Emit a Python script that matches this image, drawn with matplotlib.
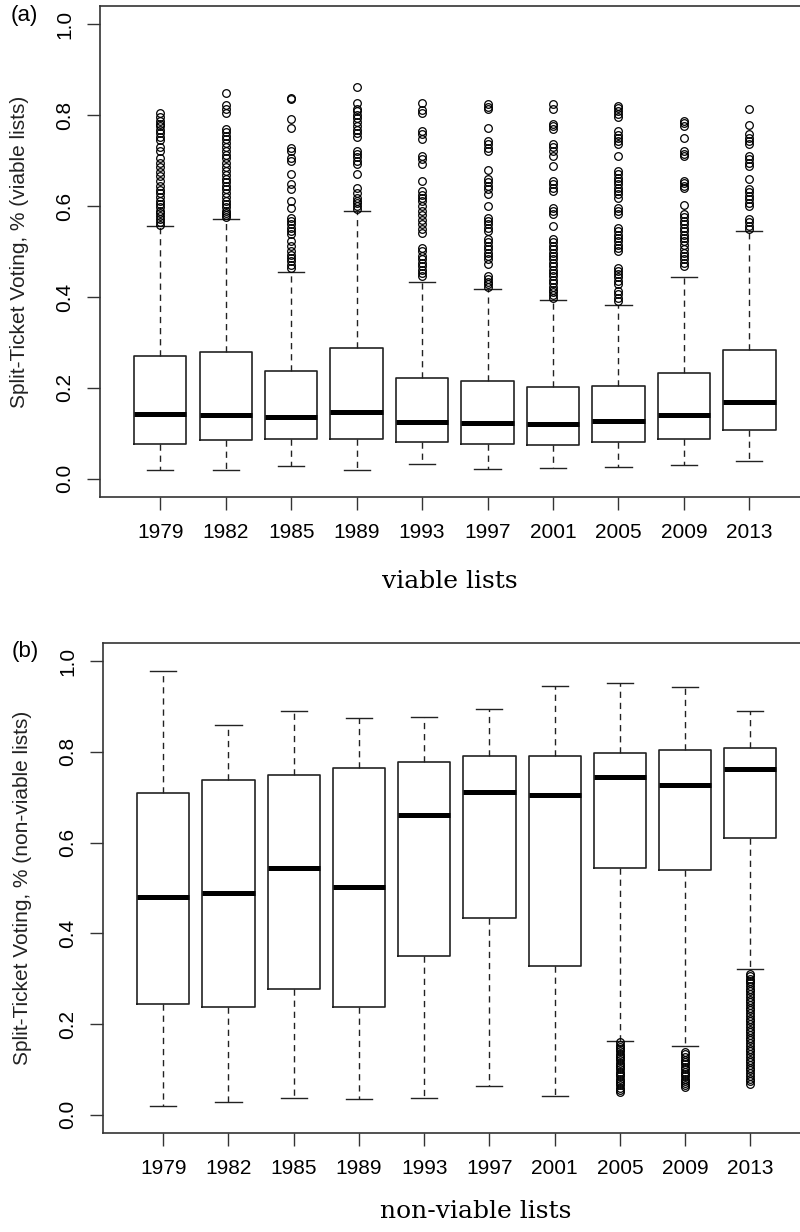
import numpy as np
import matplotlib.pyplot as plt

years = ['1979', '1982', '1985', '1989', '1993', '1997', '2001', '2005', '2009', '2013']

# panel (a): viable lists
a_whislo = [0.020, 0.020, 0.029, 0.020, 0.033, 0.022, 0.024, 0.026, 0.031, 0.040]
a_q1 = [0.077, 0.086, 0.088, 0.088, 0.081, 0.077, 0.075, 0.081, 0.088, 0.108]
a_med = [0.143, 0.141, 0.136, 0.146, 0.125, 0.123, 0.121, 0.127, 0.141, 0.168]
a_q3 = [0.270, 0.280, 0.237, 0.288, 0.222, 0.216, 0.203, 0.205, 0.233, 0.284]
a_whishi = [0.555, 0.572, 0.456, 0.588, 0.432, 0.418, 0.393, 0.383, 0.445, 0.546]
a_fliers = [
    [0.805, 0.795, 0.787, 0.780, 0.775, 0.768, 0.760, 0.752, 0.745, 0.730, 0.720,
     0.705, 0.695, 0.685, 0.675, 0.665, 0.655, 0.645, 0.635, 0.628, 0.620, 0.612,
     0.605, 0.598, 0.590, 0.585, 0.578, 0.572, 0.565, 0.558],
    [0.849, 0.822, 0.813, 0.805, 0.770, 0.762, 0.755, 0.748, 0.738, 0.730, 0.722,
     0.712, 0.705, 0.695, 0.685, 0.678, 0.668, 0.660, 0.652, 0.645, 0.637, 0.628,
     0.620, 0.612, 0.604, 0.598, 0.590, 0.585, 0.580, 0.576],
    [0.838, 0.836, 0.791, 0.772, 0.728, 0.721, 0.705, 0.700, 0.671, 0.648, 0.637,
     0.611, 0.596, 0.574, 0.567, 0.560, 0.552, 0.545, 0.538, 0.523, 0.512, 0.501,
     0.493, 0.486, 0.479, 0.471, 0.464],
    [0.862, 0.827, 0.814, 0.808, 0.800, 0.793, 0.785, 0.776, 0.768, 0.760, 0.752,
     0.721, 0.714, 0.707, 0.700, 0.692, 0.670, 0.640, 0.629, 0.618, 0.612, 0.607,
     0.600, 0.593],
    [0.827, 0.812, 0.805, 0.765, 0.758, 0.748, 0.710, 0.703, 0.692, 0.655, 0.633,
     0.625, 0.617, 0.610, 0.600, 0.590, 0.580, 0.570, 0.560, 0.550, 0.540, 0.508,
     0.500, 0.490, 0.483, 0.475, 0.468, 0.460, 0.452, 0.446],
    [0.824, 0.818, 0.813, 0.772, 0.743, 0.736, 0.728, 0.720, 0.680, 0.660, 0.652,
     0.645, 0.637, 0.626, 0.600, 0.574, 0.567, 0.560, 0.552, 0.545, 0.527, 0.520,
     0.512, 0.505, 0.497, 0.490, 0.483, 0.472, 0.446, 0.440, 0.434, 0.428, 0.422],
    [0.824, 0.814, 0.780, 0.775, 0.770, 0.736, 0.730, 0.722, 0.710, 0.688, 0.655,
     0.648, 0.640, 0.633, 0.596, 0.589, 0.582, 0.556, 0.527, 0.520, 0.512, 0.505,
     0.497, 0.490, 0.483, 0.475, 0.468, 0.460, 0.453, 0.446, 0.438, 0.430, 0.423,
     0.416, 0.410, 0.404, 0.398],
    [0.820, 0.815, 0.810, 0.803, 0.795, 0.765, 0.757, 0.750, 0.743, 0.736, 0.710,
     0.677, 0.670, 0.662, 0.655, 0.648, 0.640, 0.633, 0.626, 0.618, 0.596, 0.589,
     0.582, 0.552, 0.545, 0.537, 0.530, 0.522, 0.515, 0.508, 0.500, 0.464, 0.457,
     0.450, 0.443, 0.435, 0.429, 0.413, 0.407, 0.398, 0.392],
    [0.787, 0.782, 0.776, 0.749, 0.720, 0.715, 0.710, 0.655, 0.650, 0.645, 0.640,
     0.602, 0.582, 0.575, 0.567, 0.560, 0.552, 0.545, 0.537, 0.530, 0.522, 0.515,
     0.505, 0.497, 0.490, 0.483, 0.475, 0.468],
    [0.813, 0.778, 0.758, 0.750, 0.743, 0.736, 0.710, 0.703, 0.695, 0.688, 0.659,
     0.637, 0.630, 0.622, 0.615, 0.607, 0.600, 0.571, 0.564, 0.556, 0.549],
]

# panel (b): non-viable lists
b_whislo = [0.020, 0.029, 0.037, 0.035, 0.037, 0.064, 0.042, 0.163, 0.152, 0.322]
b_q1 = [0.245, 0.238, 0.278, 0.238, 0.351, 0.433, 0.327, 0.543, 0.539, 0.611]
b_med = [0.481, 0.490, 0.545, 0.503, 0.660, 0.711, 0.704, 0.744, 0.726, 0.762]
b_q3 = [0.709, 0.739, 0.750, 0.764, 0.777, 0.790, 0.790, 0.797, 0.804, 0.808]
b_whishi = [0.978, 0.859, 0.890, 0.874, 0.876, 0.894, 0.945, 0.951, 0.943, 0.890]
b_fliers = [
    [], [], [], [], [], [], [],
    [0.161, 0.155, 0.150, 0.145, 0.140, 0.135, 0.130, 0.125, 0.120, 0.115, 0.110,
     0.105, 0.100, 0.095, 0.090, 0.085, 0.080, 0.075, 0.070, 0.065, 0.060, 0.055,
     0.050],
    [0.139, 0.134, 0.128, 0.122, 0.117, 0.112, 0.106, 0.100, 0.095, 0.090, 0.085,
     0.080, 0.075, 0.070, 0.066, 0.062],
    [0.311, 0.305, 0.300, 0.295, 0.290, 0.284, 0.278, 0.272, 0.266, 0.260, 0.254,
     0.248, 0.242, 0.236, 0.230, 0.224, 0.218, 0.212, 0.206, 0.200, 0.194, 0.188,
     0.182, 0.176, 0.170, 0.164, 0.158, 0.152, 0.146, 0.140, 0.134, 0.128, 0.122,
     0.116, 0.110, 0.104, 0.098, 0.092, 0.086, 0.080, 0.074, 0.068],
]

plt.rcParams['font.family'] = ['Liberation Sans', 'DejaVu Sans']
fig = plt.figure(figsize=(8, 12.32), dpi=100)
spine_col = '#333333'


def panel(rect, whislo, q1, med, q3, whishi, fliers, ylab, xlab, tag, xlab_x, xlab_y, tag_y):
    ax = fig.add_axes(rect)
    stats = []
    for i in range(len(years)):
        stats.append({'whislo': whislo[i], 'q1': q1[i], 'med': med[i], 'q3': q3[i],
                      'whishi': whishi[i], 'fliers': fliers[i]})
    pos = np.arange(1, len(years) + 1)
    ax.bxp(stats, positions=pos, widths=0.8, showfliers=True, patch_artist=False,
           boxprops=dict(color='#222222', linewidth=1.2),
           medianprops=dict(color='black', linewidth=3.6, solid_capstyle='butt'),
           whiskerprops=dict(color='#222222', linewidth=1.0, linestyle=(0, (4.5, 3.5))),
           capprops=dict(color='#222222', linewidth=1.0),
           flierprops=dict(marker='o', markersize=5.5, markerfacecolor='none',
                           markeredgecolor='black', markeredgewidth=0.9))
    ax.set_xlim(0.08, 10.92)
    ax.set_ylim(-0.04, 1.04)
    ax.set_xticks(pos)
    ax.set_xticklabels(years, fontsize=15)
    ax.set_yticks([0.0, 0.2, 0.4, 0.6, 0.8, 1.0])
    ax.set_yticklabels(['0.0', '0.2', '0.4', '0.6', '0.8', '1.0'], fontsize=15,
                       rotation=90, va='center')
    ax.tick_params(axis='both', direction='out', length=9.5, width=1.0, color=spine_col, pad=9)
    for s in ['left', 'bottom', 'top', 'right']:
        ax.spines[s].set_color(spine_col)
        ax.spines[s].set_linewidth(1.2)
    ax.set_ylabel(ylab, fontsize=15, color='#222222')
    ax.yaxis.set_label_coords(-0.10, 0.5)
    fig.text(xlab_x, xlab_y, xlab, fontsize=18, family='DejaVu Serif', ha='center', va='center')
    fig.text(0.031, tag_y, tag, fontsize=16, ha='center', va='center')
    return ax


panel([0.125, 1 - 497 / 1232, 0.887, 491 / 1232],
      a_whislo, a_q1, a_med, a_q3, a_whishi, a_fliers,
      'Split-Ticket Voting, % (viable lists)', 'viable lists', '(a)',
      450 / 800, 1 - 582 / 1232, 1 - 15 / 1232)
panel([0.129, 1 - 1133 / 1232, 0.884, 490 / 1232],
      b_whislo, b_q1, b_med, b_q3, b_whishi, b_fliers,
      'Split-Ticket Voting, % (non-viable lists)', 'non-viable lists', '(b)',
      476 / 800, 1 - 1212 / 1232, 1 - 652 / 1232)

fig.savefig('out.png', dpi=100)
